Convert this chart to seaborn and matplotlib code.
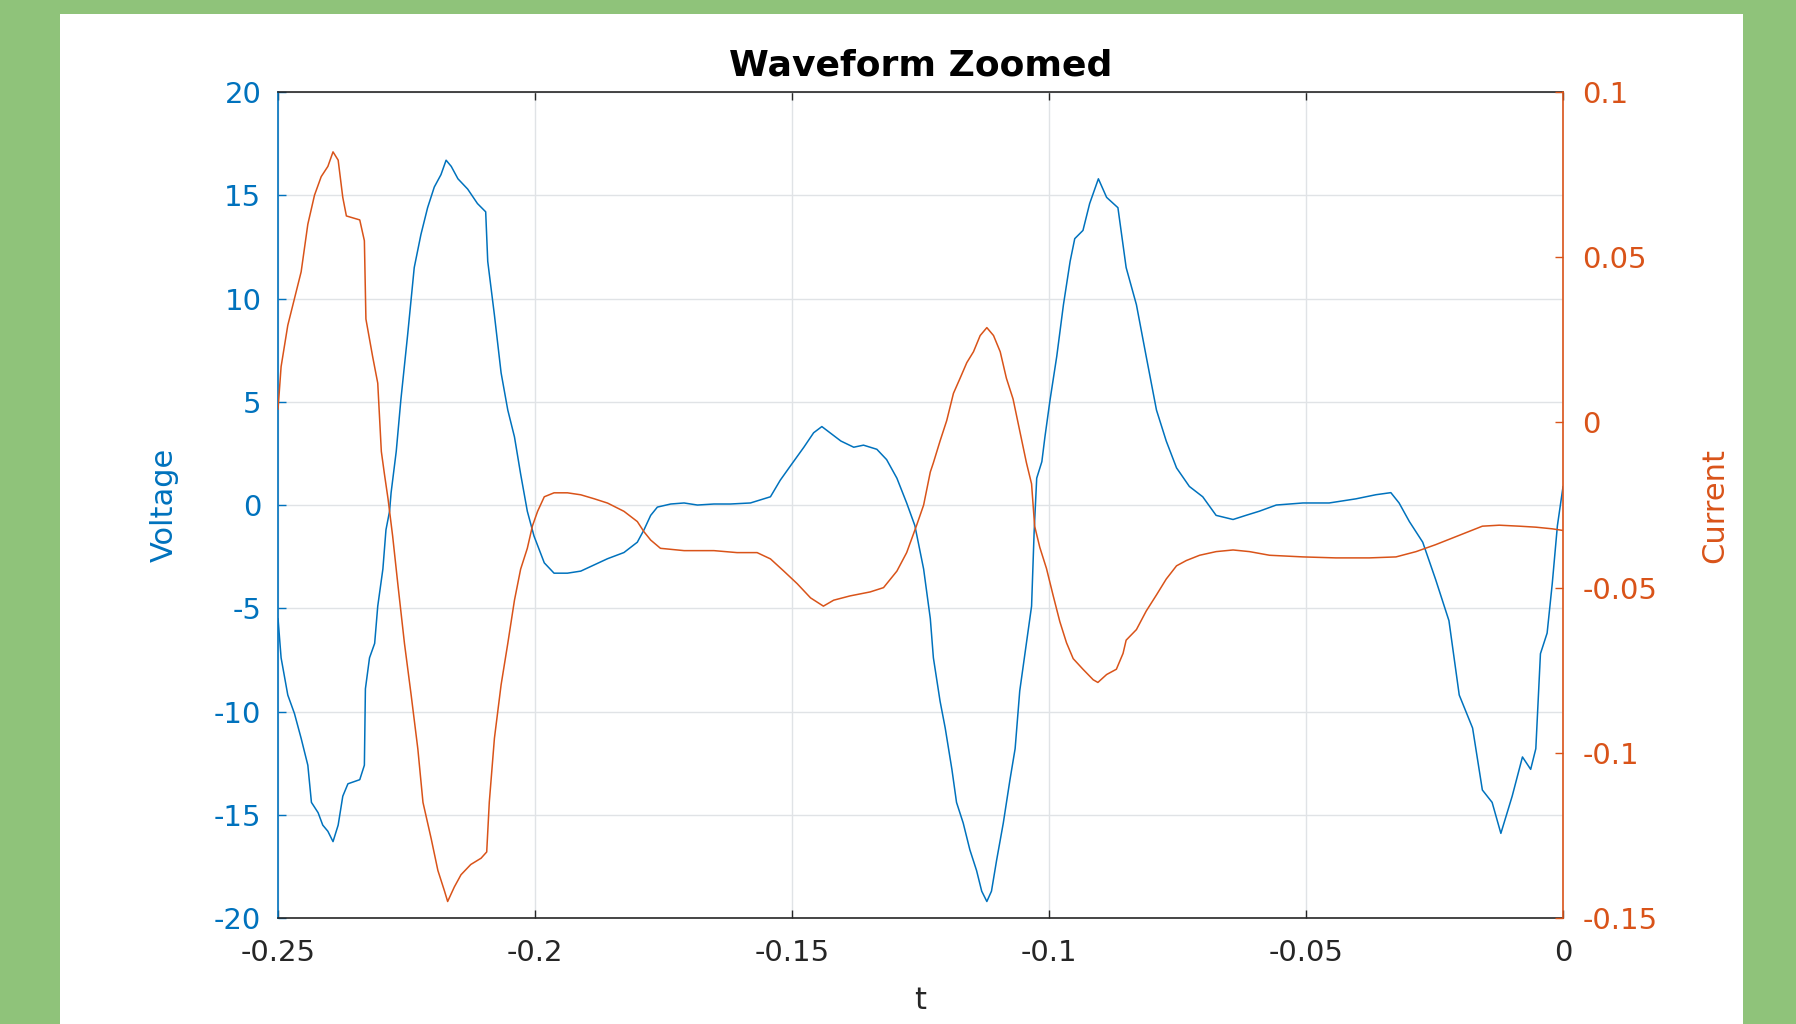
import pandas as pd
import matplotlib
matplotlib.use("Agg")
import matplotlib.pyplot as plt
from matplotlib.patches import Rectangle
import seaborn as sns

# voltage trace
t_voltage = [
    -0.2500, -0.2494, -0.2481, -0.2468, -0.2455, -0.2442, -0.2435, -0.2422, -0.2413, -0.2403,
    -0.2393, -0.2383, -0.2374, -0.2364, -0.2341, -0.2332, -0.2330, -0.2322, -0.2312, -0.2306,
    -0.2296, -0.2290, -0.2283, -0.2280, -0.2270, -0.2261, -0.2248, -0.2235, -0.2222, -0.2209,
    -0.2196, -0.2183, -0.2173, -0.2163, -0.2150, -0.2131, -0.2112, -0.2096, -0.2092, -0.2079,
    -0.2066, -0.2053, -0.2040, -0.2028, -0.2015, -0.2002, -0.1982, -0.1963, -0.1937, -0.1911,
    -0.1885, -0.1859, -0.1827, -0.1801, -0.1788, -0.1775, -0.1762, -0.1736, -0.1710, -0.1684,
    -0.1652, -0.1620, -0.1581, -0.1542, -0.1523, -0.1503, -0.1477, -0.1458, -0.1442, -0.1426,
    -0.1405, -0.1380, -0.1361, -0.1335, -0.1316, -0.1296, -0.1277, -0.1261, -0.1244, -0.1231,
    -0.1225, -0.1212, -0.1202, -0.1189, -0.1180, -0.1167, -0.1154, -0.1141, -0.1131, -0.1121,
    -0.1112, -0.1102, -0.1089, -0.1076, -0.1066, -0.1057, -0.1044, -0.1034, -0.1029, -0.1024,
    -0.1014, -0.1008, -0.0998, -0.0985, -0.0972, -0.0959, -0.0950, -0.0934, -0.0921, -0.0904,
    -0.0888, -0.0866, -0.0850, -0.0830, -0.0811, -0.0791, -0.0772, -0.0752, -0.0727, -0.0701,
    -0.0675, -0.0642, -0.0617, -0.0591, -0.0558, -0.0506, -0.0455, -0.0403, -0.0364, -0.0335,
    -0.0319, -0.0299, -0.0273, -0.0248, -0.0222, -0.0202, -0.0176, -0.0157, -0.0138, -0.0121,
    -0.0099, -0.0079, -0.0063, -0.0053, -0.0044, -0.0031, -0.0021, -0.0011, 0.0000,
]
voltage = [
    -5.5, -7.4, -9.2, -10.1, -11.3, -12.6, -14.4, -14.9, -15.5, -15.8,
    -16.3, -15.5, -14.1, -13.5, -13.3, -12.6, -8.9, -7.4, -6.7, -4.9,
    -3.1, -1.2, -0.3, 0.6, 2.6, 5.1, 8.2, 11.5, 13.1, 14.4,
    15.4, 16.0, 16.7, 16.4, 15.8, 15.3, 14.6, 14.2, 11.8, 9.2,
    6.4, 4.6, 3.3, 1.5, -0.3, -1.5, -2.8, -3.3, -3.3, -3.2,
    -2.9, -2.6, -2.3, -1.8, -1.2, -0.5, -0.1, 0.05, 0.1, 0.0,
    0.05, 0.05, 0.1, 0.4, 1.2, 1.9, 2.8, 3.5, 3.8, 3.5,
    3.1, 2.8, 2.9, 2.7, 2.2, 1.3, 0.1, -1.0, -3.1, -5.5,
    -7.4, -9.5, -10.8, -12.8, -14.4, -15.4, -16.7, -17.7, -18.7, -19.2,
    -18.7, -17.2, -15.4, -13.3, -11.8, -9.0, -6.7, -4.9, -1.3, 1.3,
    2.1, 3.3, 5.1, 7.2, 9.7, 11.8, 12.9, 13.3, 14.6, 15.8,
    14.9, 14.4, 11.5, 9.7, 7.2, 4.6, 3.1, 1.8, 0.9, 0.4,
    -0.5, -0.7, -0.5, -0.3, 0.0, 0.1, 0.1, 0.3, 0.5, 0.6,
    0.1, -0.8, -1.8, -3.6, -5.6, -9.2, -10.8, -13.8, -14.4, -15.9,
    -14.1, -12.2, -12.8, -11.8, -7.2, -6.2, -3.8, -1.0, 0.9,
]

# current trace
t_current = [
    -0.2500, -0.2494, -0.2481, -0.2468, -0.2455, -0.2442, -0.2429, -0.2416, -0.2403, -0.2393,
    -0.2383, -0.2374, -0.2367, -0.2341, -0.2332, -0.2329, -0.2316, -0.2306, -0.2299, -0.2293,
    -0.2286, -0.2277, -0.2267, -0.2254, -0.2241, -0.2228, -0.2218, -0.2202, -0.2189, -0.2176,
    -0.2170, -0.2157, -0.2144, -0.2125, -0.2105, -0.2094, -0.2089, -0.2079, -0.2066, -0.2053,
    -0.2040, -0.2028, -0.2015, -0.2005, -0.1995, -0.1982, -0.1963, -0.1937, -0.1911, -0.1885,
    -0.1859, -0.1827, -0.1801, -0.1788, -0.1775, -0.1756, -0.1710, -0.1652, -0.1607, -0.1568,
    -0.1542, -0.1516, -0.1490, -0.1464, -0.1439, -0.1419, -0.1387, -0.1348, -0.1322, -0.1296,
    -0.1277, -0.1258, -0.1244, -0.1231, -0.1225, -0.1212, -0.1199, -0.1186, -0.1173, -0.1160,
    -0.1147, -0.1134, -0.1121, -0.1108, -0.1095, -0.1083, -0.1070, -0.1057, -0.1044, -0.1034,
    -0.1028, -0.1018, -0.1005, -0.0992, -0.0979, -0.0966, -0.0953, -0.0934, -0.0914, -0.0905,
    -0.0888, -0.0869, -0.0856, -0.0850, -0.0830, -0.0811, -0.0791, -0.0772, -0.0752, -0.0733,
    -0.0707, -0.0675, -0.0642, -0.0610, -0.0571, -0.0506, -0.0442, -0.0377, -0.0325, -0.0286,
    -0.0248, -0.0209, -0.0183, -0.0157, -0.0124, -0.0085, -0.0053, -0.0021, 0.0000,
]
current = [
    0.0040, 0.0169, 0.0294, 0.0375, 0.0456, 0.0600, 0.0688, 0.0744, 0.0775, 0.0819,
    0.0794, 0.0681, 0.0625, 0.0613, 0.0550, 0.0313, 0.0200, 0.0119, -0.0088, -0.0156,
    -0.0231, -0.0344, -0.0488, -0.0669, -0.0825, -0.0988, -0.1150, -0.1260, -0.1356, -0.1419,
    -0.1450, -0.1406, -0.1369, -0.1338, -0.1319, -0.1300, -0.1150, -0.0956, -0.0794, -0.0669,
    -0.0538, -0.0444, -0.0381, -0.0313, -0.0269, -0.0225, -0.0213, -0.0213, -0.0219, -0.0231,
    -0.0244, -0.0269, -0.0300, -0.0331, -0.0356, -0.0381, -0.0388, -0.0388, -0.0394, -0.0394,
    -0.0413, -0.0450, -0.0488, -0.0531, -0.0556, -0.0538, -0.0525, -0.0513, -0.0500, -0.0450,
    -0.0394, -0.0313, -0.0250, -0.0150, -0.0122, -0.0056, 0.0006, 0.0088, 0.0134, 0.0181,
    0.0214, 0.0263, 0.0287, 0.0263, 0.0214, 0.0134, 0.0071, -0.0026, -0.0122, -0.0186,
    -0.0314, -0.0378, -0.0442, -0.0524, -0.0603, -0.0667, -0.0715, -0.0747, -0.0779, -0.0787,
    -0.0763, -0.0747, -0.0699, -0.0659, -0.0627, -0.0571, -0.0522, -0.0474, -0.0434, -0.0418,
    -0.0402, -0.0391, -0.0386, -0.0391, -0.0402, -0.0407, -0.0410, -0.0410, -0.0407, -0.0391,
    -0.0370, -0.0346, -0.0330, -0.0314, -0.0311, -0.0314, -0.0317, -0.0322, -0.0327,
]

t_ticks = [-0.25, -0.2, -0.15, -0.1, -0.05, 0]
t_labels = ["-0.25", "-0.2", "-0.15", "-0.1", "-0.05", "0"]
v_ticks = [-20, -15, -10, -5, 0, 5, 10, 15, 20]
v_labels = ["-20", "-15", "-10", "-5", "0", "5", "10", "15", "20"]
i_ticks = [-0.15, -0.1, -0.05, 0, 0.05, 0.1]
i_labels = ["-0.15", "-0.1", "-0.05", "0", "0.05", "0.1"]

blue = "#0072BD"
orange = "#D95319"
dark = "#262626"

sns.set_style("white")
plt.rcParams["font.family"] = ["DejaVu Sans"]
plt.rcParams["axes.unicode_minus"] = False

v_df = pd.DataFrame({"t": t_voltage, "Voltage": voltage})
i_df = pd.DataFrame({"t": t_current, "Current": current})

fig = plt.figure(figsize=(17.96, 10.24), dpi=100)
fig.patch.set_facecolor("#8fc37a")
fig.add_artist(Rectangle((60 / 1796, 0), (1743 - 60) / 1796, (1024 - 14) / 1024,
                         transform=fig.transFigure, facecolor="white",
                         edgecolor="none", zorder=0))

ax = fig.add_axes([0.1548, 0.1035, 0.7155, 0.8066])
ax2 = ax.twinx()

sns.lineplot(data=v_df, x="t", y="Voltage", ax=ax, color=blue, linewidth=1.1,
             estimator=None)
sns.lineplot(data=i_df, x="t", y="Current", ax=ax2, color=orange, linewidth=1.1,
             estimator=None)

ax.set_xlim(-0.25, 0)
ax.set_ylim(-20, 20)
ax2.set_ylim(-0.15, 0.1)

ax.set_xticks(t_ticks)
ax.set_xticklabels(t_labels)
ax.set_yticks(v_ticks)
ax.set_yticklabels(v_labels)
ax2.set_yticks(i_ticks)
ax2.set_yticklabels(i_labels)

ax.grid(True, color="#e0e3e6", linewidth=1.0)
ax.set_axisbelow(True)

ax.tick_params(axis="x", direction="in", top=True, bottom=True, length=6,
               width=1, colors=dark, labelsize=21, pad=15)
ax.tick_params(axis="y", direction="in", left=True, right=False, length=6,
               width=1, colors=blue, labelsize=21, pad=12)
ax2.tick_params(axis="y", direction="in", right=True, length=6, width=1,
                colors=orange, labelsize=21, pad=14)

for side in ["top", "bottom"]:
    ax.spines[side].set_color(dark)
    ax.spines[side].set_linewidth(1.2)
    ax2.spines[side].set_visible(False)
ax.spines["left"].set_color(blue)
ax.spines["left"].set_linewidth(1.2)
ax.spines["right"].set_visible(False)
ax2.spines["left"].set_visible(False)
ax2.spines["right"].set_color(orange)
ax2.spines["right"].set_linewidth(1.2)

ax.set_xlabel("t", fontsize=22, color=dark)
ax.xaxis.label.set_verticalalignment("center")
ax.xaxis.set_label_coords(0.5, -0.0993)
ax.set_ylabel("Voltage", fontsize=22, color=blue)
ax.yaxis.set_label_coords(-0.077, 0.5)
ax2.set_ylabel("Current", fontsize=22, color=orange)
ax2.yaxis.set_label_coords(1.107, 0.5)
ax.set_title("Waveform Zoomed", fontsize=26, fontweight="bold", color="black",
             y=1.0206, pad=0)

fig.savefig("out.png", dpi=100, facecolor=fig.get_facecolor())
